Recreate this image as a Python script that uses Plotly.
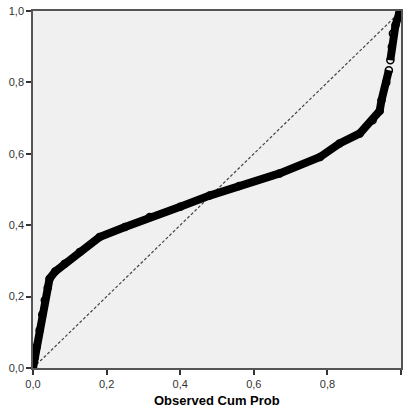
import plotly.graph_objects as go

# Observed cumulative probability vs expected cumulative probability
obs_main = [0.0, 0.005, 0.01, 0.018, 0.025, 0.032, 0.04, 0.045, 0.06, 0.086, 0.127,
            0.181, 0.25, 0.317, 0.40, 0.48, 0.56, 0.67, 0.78, 0.833, 0.888, 0.923,
            0.942, 0.947, 0.96, 0.967]
exp_main = [0.0, 0.03, 0.06, 0.106, 0.15, 0.19, 0.225, 0.25, 0.27, 0.292, 0.325,
            0.367, 0.395, 0.423, 0.452, 0.483, 0.51, 0.545, 0.591, 0.629, 0.657, 0.694,
            0.72, 0.75, 0.80, 0.834]
obs_top = [0.971, 0.975, 0.978, 0.985, 0.995, 1.0]
exp_top = [0.862, 0.90, 0.937, 0.96, 0.993, 1.0]
ref_line = [0.0, 1.0]
tick_vals = [0.0, 0.2, 0.4, 0.6, 0.8, 1.0]

fig = go.Figure()
fig.add_trace(go.Scatter(x=ref_line, y=ref_line, mode="lines",
                         line=dict(color="#444444", width=1.2, dash="3px,2px"),
                         hoverinfo="skip"))
for xs, ys in [(obs_main, exp_main), (obs_top, exp_top)]:
    fig.add_trace(go.Scatter(
        x=xs, y=ys, mode="lines+markers",
        line=dict(color="black", width=8),
        marker=dict(symbol="circle-open", size=7, color="black", line=dict(width=1.5)),
    ))

axis_common = dict(range=[0, 1], tickvals=tick_vals, tickformat=".1f",
                   showgrid=False, zeroline=False, showline=True, mirror=True,
                   linecolor="#555555", linewidth=1.5, ticks="outside", ticklen=5,
                   tickcolor="#333333", tickwidth=1.5, automargin=False,
                   tickfont=dict(family="Liberation Sans, Arial", size=11, color="#333333"))

fig.update_layout(
    width=406, height=410,
    margin=dict(l=33, r=5, t=11, b=42),
    paper_bgcolor="white", plot_bgcolor="#f0f0f0",
    showlegend=False,
    separators=",.",
    xaxis=dict(**axis_common),
    yaxis=dict(**axis_common),
    annotations=[dict(text="<b>Observed Cum Prob</b>", xref="paper", yref="paper",
                      x=0.5, y=0, yshift=-32, xanchor="center", yanchor="middle",
                      showarrow=False,
                      font=dict(family="Liberation Sans, Arial", size=13, color="black"))],
)

fig.write_html("out.html", config={"displayModeBar": False},
               post_script="document.body.style.margin='0';document.body.style.overflow='hidden';")
